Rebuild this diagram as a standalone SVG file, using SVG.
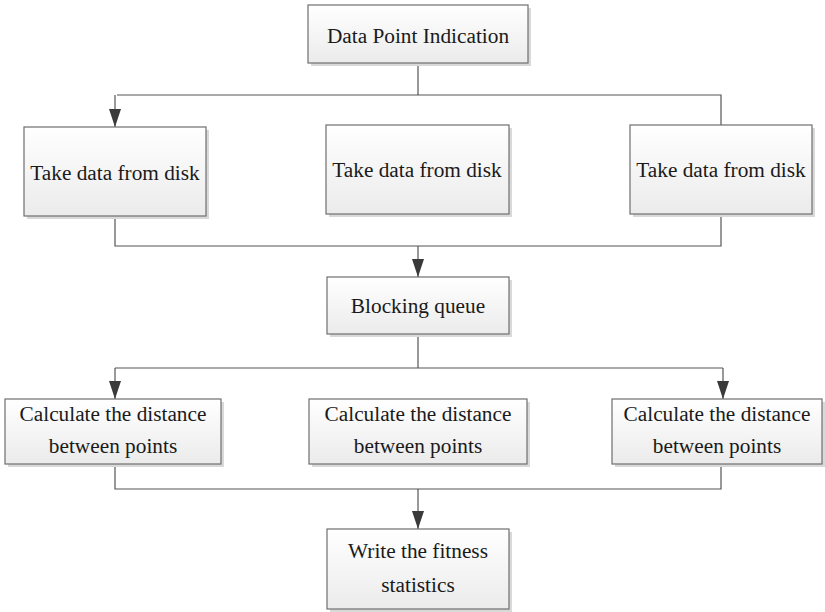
<svg xmlns="http://www.w3.org/2000/svg" width="825" height="612" viewBox="0 0 825 612">
<style>
.box{fill:url(#g);stroke:#6e6e6e;stroke-width:1.2}
.sh{fill:#d9d9d9}
.t{font-family:"Liberation Serif","Times New Roman",serif;font-size:21.3px;fill:#1a1a1a;text-anchor:middle}
.c{fill:none;stroke:#555;stroke-width:1.2}
</style>
<defs>
<linearGradient id="g" x1="0" y1="0" x2="0" y2="1">
<stop offset="0" stop-color="#ffffff"/>
<stop offset="1" stop-color="#ebebeb"/>
</linearGradient>
<marker id="a" markerWidth="18" markerHeight="12" refX="18" refY="6" orient="auto" markerUnits="userSpaceOnUse" viewBox="0 0 18 12">
<path d="M0,0 L18,6 L0,12 Z" fill="#3a3a3a"/>
</marker>
</defs>
<g id="connectors">
<path class="c" d="M418,63 V95 M117,95 H721 V125"/>
<path class="c" d="M115,95 V127" marker-end="url(#a)"/>
<path class="c" d="M115,216 V246 H721 V214"/>
<path class="c" d="M418,246 V277" marker-end="url(#a)"/>
<path class="c" d="M418,334 V368 M115,368 H723"/>
<path class="c" d="M115,368 V399" marker-end="url(#a)"/>
<path class="c" d="M723,368 V399" marker-end="url(#a)"/>
<path class="c" d="M115,464 V489 H721 V464"/>
<path class="c" d="M418,489 V529" marker-end="url(#a)"/>
</g>
<g id="n1"><rect class="sh" x="311" y="8" width="220" height="58"/><rect class="box" x="308" y="5" width="220" height="58"/><text class="t" x="418" y="43">Data Point Indication</text></g>
<g id="n2"><rect class="sh" x="27" y="130" width="182" height="89"/><rect class="box" x="24" y="127" width="182" height="89"/><text class="t" x="115" y="180">Take data from disk</text></g>
<g id="n3"><rect class="sh" x="329" y="128" width="183" height="89"/><rect class="box" x="326" y="125" width="183" height="89"/><text class="t" x="417" y="177">Take data from disk</text></g>
<g id="n4"><rect class="sh" x="633" y="128" width="182" height="89"/><rect class="box" x="630" y="125" width="182" height="89"/><text class="t" x="721" y="177">Take data from disk</text></g>
<g id="n5"><rect class="sh" x="330" y="280" width="182" height="57"/><rect class="box" x="327" y="277" width="182" height="57"/><text class="t" x="418" y="313">Blocking queue</text></g>
<g id="n6"><rect class="sh" x="8" y="402" width="216" height="65"/><rect class="box" x="5" y="399" width="216" height="65"/><text class="t" x="113" y="421">Calculate the distance</text><text class="t" x="113" y="453">between points</text></g>
<g id="n7"><rect class="sh" x="312" y="402" width="218" height="65"/><rect class="box" x="309" y="399" width="218" height="65"/><text class="t" x="418" y="421">Calculate the distance</text><text class="t" x="418" y="453">between points</text></g>
<g id="n8"><rect class="sh" x="615" y="402" width="210" height="65"/><rect class="box" x="612" y="399" width="210" height="65"/><text class="t" x="717" y="421">Calculate the distance</text><text class="t" x="717" y="453">between points</text></g>
<g id="n9"><rect class="sh" x="330" y="532" width="182" height="80"/><rect class="box" x="327" y="529" width="182" height="80"/><text class="t" x="418" y="558">Write the fitness</text><text class="t" x="418" y="592">statistics</text></g>
</svg>
